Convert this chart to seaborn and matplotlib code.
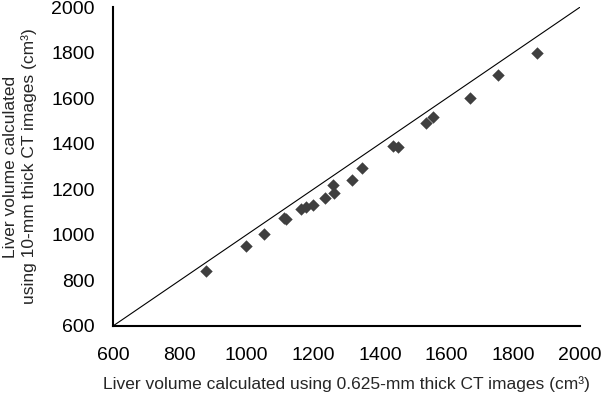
import matplotlib
matplotlib.use("Agg")
import matplotlib.pyplot as plt
import seaborn as sns
import pandas as pd

# volumes (cm3)
thin_ct = [878, 998, 1054, 1113, 1120, 1163, 1178, 1200, 1235, 1260, 1262,
           1318, 1347, 1438, 1454, 1537, 1560, 1671, 1753, 1872]
thick_ct = [843, 950, 1006, 1075, 1068, 1114, 1121, 1133, 1164, 1218, 1185,
            1240, 1293, 1391, 1388, 1490, 1518, 1603, 1704, 1800]
ticks = [600, 800, 1000, 1200, 1400, 1600, 1800, 2000]

df = pd.DataFrame({"thin": thin_ct, "thick": thick_ct})

sns.set_style("white")
plt.rcParams["font.family"] = ["Liberation Sans", "DejaVu Sans"]

fig, ax = plt.subplots(figsize=(6.01, 4.0), dpi=100)
fig.subplots_adjust(left=0.188, right=0.965, bottom=0.185, top=0.982)

# line of identity
ax.plot([ticks[0], ticks[-1]], [ticks[0], ticks[-1]], color="black", lw=0.8)

sns.scatterplot(data=df, x="thin", y="thick", marker="D", s=40,
                color="#3f3f3f", edgecolor="#3f3f3f", linewidth=0, ax=ax)

ax.set_xlim(ticks[0], ticks[-1])
ax.set_ylim(ticks[0], ticks[-1])
ax.set_xticks(ticks)
ax.set_yticks(ticks)
ax.tick_params(direction="in", length=5, width=1.3, labelsize=14,
               color="black", labelcolor="black")
ax.tick_params(axis="x", pad=15)
ax.tick_params(axis="y", pad=13)
sns.despine(ax=ax)
for side in ["left", "bottom"]:
    ax.spines[side].set_linewidth(1.5)
    ax.spines[side].set_color("black")

ax.set_xlabel("Liver volume calculated using 0.625-mm thick CT images (cm³)",
              fontsize=12.5, labelpad=9)
ax.set_ylabel("Liver volume calculated\nusing 10-mm thick CT images (cm³)",
              fontsize=12.5, labelpad=10, linespacing=1.3)

fig.savefig("out.png", dpi=100)
